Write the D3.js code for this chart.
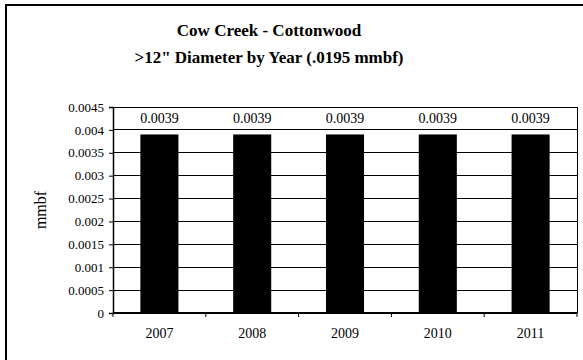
<!DOCTYPE html>
<html><head><meta charset="utf-8">
<script src="https://cdn.jsdelivr.net/npm/d3@7"></script>
<style>body{margin:0;background:#fff}svg{display:block}svg text{font-family:"Liberation Serif","Times New Roman",serif !important}</style>
</head><body><svg id="c" width="583" height="360"></svg>
<script>
const categories = ["2007","2008","2009","2010","2011"];
const values = [0.0039,0.0039,0.0039,0.0039,0.0039];
const valueLabels = ["0.0039","0.0039","0.0039","0.0039","0.0039"];
const yTicks = [0,0.0005,0.001,0.0015,0.002,0.0025,0.003,0.0035,0.004,0.0045];
const yTickLabels = ["0","0.0005","0.001","0.0015","0.002","0.0025","0.003","0.0035","0.004","0.0045"];
const titleLines = ["Cow Creek - Cottonwood", ">12\" Diameter by Year (.0195 mmbf)"];
const yTitle = "mmbf";

const svg = d3.select("#c");
const L = 113, R = 577, T = 107, B = 313;
svg.append("rect").attr("x",6).attr("y",5).attr("width",600).attr("height",400)
  .attr("fill","none").attr("stroke","#000").attr("stroke-width",2);

const x = d3.scaleBand().domain(categories).range([L,R]).paddingInner(0.59).paddingOuter(0.295);
const y = d3.scaleLinear().domain([0,0.0045]).range([B,T]);

// gridlines
svg.append("g").selectAll("line").data(yTicks.slice(1)).join("line")
  .attr("x1",L).attr("x2",R).attr("y1",d=>y(d)).attr("y2",d=>y(d))
  .attr("stroke","#000").attr("stroke-width",1).attr("shape-rendering","crispEdges");
// plot right border
svg.append("line").attr("x1",R).attr("x2",R).attr("y1",T).attr("y2",B)
  .attr("stroke","#000").attr("shape-rendering","crispEdges");

// bars
svg.append("g").selectAll("rect").data(values).join("rect")
  .attr("x",(d,i)=>x(categories[i])).attr("width",x.bandwidth())
  .attr("y",d=>y(d)).attr("height",d=>B-y(d)).attr("fill","#000");

// value labels
svg.append("g").selectAll("text").data(values).join("text")
  .attr("x",(d,i)=>x(categories[i])+x.bandwidth()/2).attr("y",123)
  .attr("text-anchor","middle").attr("font-size",14).text((d,i)=>valueLabels[i]);

// y axis
const ya = svg.append("g").attr("transform",`translate(${L},0)`)
  .call(d3.axisLeft(y).tickValues(yTicks).tickFormat((d,i)=>yTickLabels[i]).tickSize(4).tickPadding(5));
ya.attr("font-family",null);
ya.select(".domain").attr("stroke","#000").attr("stroke-width",1.5);
ya.selectAll("text").attr("font-size",13).attr("fill","#000");

// x axis
const xPos = d3.scalePoint().domain(d3.range(categories.length+1)).range([L,R]);
const xa = svg.append("g");
xa.append("line").attr("x1",L).attr("x2",R).attr("y1",B).attr("y2",B).attr("stroke","#000").attr("stroke-width",2);
xa.selectAll("line.t").data(d3.range(categories.length+1)).join("line").attr("class","t")
  .attr("x1",d=>xPos(d)).attr("x2",d=>xPos(d)).attr("y1",B).attr("y2",B+4).attr("stroke","#000");
xa.selectAll("text").data(categories).join("text")
  .attr("x",d=>x(d)+x.bandwidth()/2).attr("y",338).attr("text-anchor","middle")
  .attr("font-size",14).text(d=>d);

// y title
svg.append("text").attr("transform","translate(46,210) rotate(-90)")
  .attr("text-anchor","middle").attr("font-size",16).text(yTitle);

// titles
svg.selectAll("text.title").data(titleLines).join("text").attr("class","title")
  .attr("x",269).attr("y",(d,i)=>36+i*27).attr("text-anchor","middle")
  .attr("font-size",17).attr("font-weight","bold").text(d=>d);
</script></body></html>
